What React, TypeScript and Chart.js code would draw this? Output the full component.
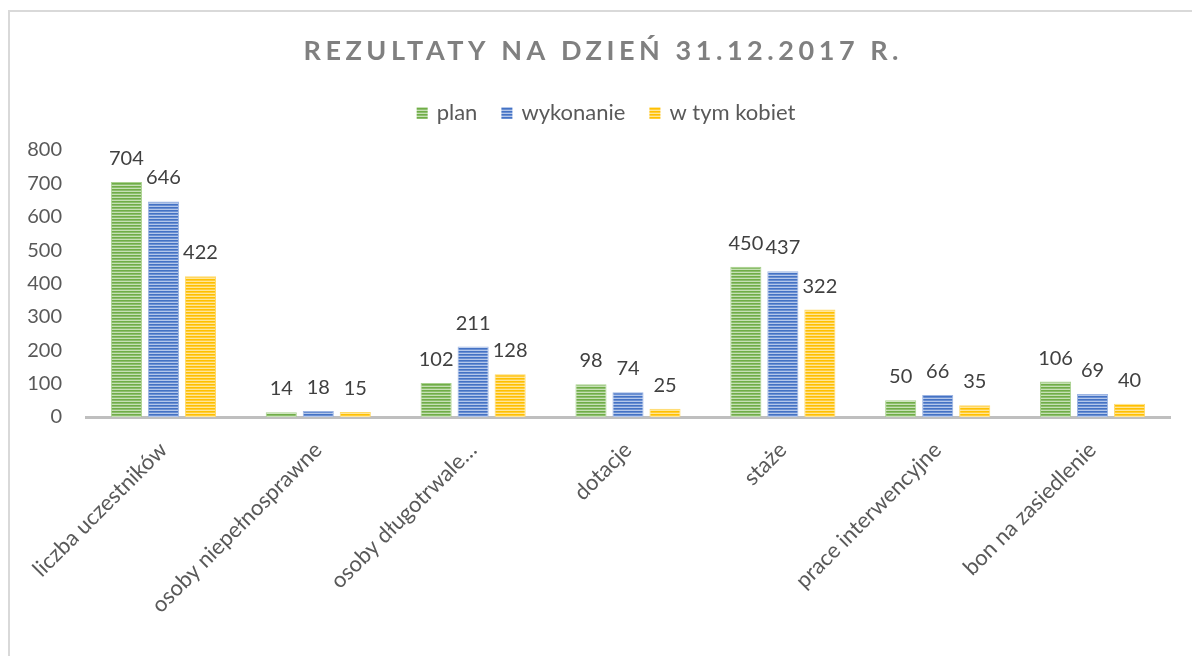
import React, { useEffect, useRef } from "react";
import { Chart, registerables } from "chart.js";

Chart.register(...registerables);

const titleText = "REZULTATY NA DZIEŃ 31.12.2017 R.";
const categories = [
  "liczba uczestników",
  "osoby niepełnosprawne",
  "osoby długotrwale…",
  "dotacje",
  "staże",
  "prace interwencyjne",
  "bon na zasiedlenie",
];
const seriesNames = ["plan", "wykonanie", "w tym kobiet"];
const planValues = [704, 14, 102, 98, 450, 50, 106];
const wykonanieValues = [646, 18, 211, 74, 437, 66, 69];
const kobietValues = [422, 15, 128, 25, 322, 35, 40];
const yMin = 0;
const yMax = 800;
const yStep = 100;

const FONT = "Lato, 'Open Sans', sans-serif";
const baseColors = ["#70AD47", "#4472C4", "#FFC000"];
const midColors = ["#8DBE6E", "#6A8FD2", "#FFCC3A"];
const lightColors = ["#C6E0B5", "#B4C7EA", "#FFE699"];
const edgeColors = ["#A9D18E", "#9DB5E3", "#FFD966"];

function stripes(base: string, mid: string, light: string) {
  const c = document.createElement("canvas");
  c.width = 4;
  c.height = 3;
  const x = c.getContext("2d")!;
  x.fillStyle = base;
  x.fillRect(0, 0, 4, 1);
  x.fillStyle = mid;
  x.fillRect(0, 1, 4, 1);
  x.fillStyle = light;
  x.fillRect(0, 2, 4, 1);
  return x.createPattern(c, "repeat")!;
}

const extrasPlugin = {
  id: "extras",
  afterDatasetsDraw(chart: any) {
    const ctx = chart.ctx;
    ctx.save();
    ctx.font = `20px ${FONT}`;
    ctx.fillStyle = "#404040";
    ctx.textAlign = "center";
    ctx.textBaseline = "alphabetic";
    chart.data.datasets.forEach((ds: any, i: number) => {
      const meta = chart.getDatasetMeta(i);
      meta.data.forEach((el: any, j: number) => {
        ctx.fillText(String(ds.data[j]), el.x, el.y - 17);
      });
    });
    ctx.restore();
  },
  afterDraw(chart: any) {
    const ctx = chart.ctx;
    const w = chart.width;
    // title
    ctx.save();
    ctx.font = `bold 27px ${FONT}`;
    ctx.fillStyle = "#808080";
    ctx.textBaseline = "alphabetic";
    ctx.textAlign = "left";
    (ctx as any).letterSpacing = "0px";
    const base = ctx.measureText(titleText).width;
    const n = Array.from(titleText).length;
    const target = 595;
    const s = Math.max(0, (target - base) / (n - 1));
    (ctx as any).letterSpacing = `${s}px`;
    ctx.fillText(titleText, w / 2 - target / 2, 48);
    ctx.restore();

    // legend
    ctx.save();
    ctx.font = `22px ${FONT}`;
    ctx.textBaseline = "alphabetic";
    ctx.textAlign = "left";
    const widths = seriesNames.map((t) => ctx.measureText(t).width);
    const markerW = 11;
    const textGap = 9;
    const itemGap = 24;
    let total = 0;
    widths.forEach((tw, i) => {
      total += markerW + textGap + tw + (i < widths.length - 1 ? itemGap : 0);
    });
    let x = 596 - total / 2;
    chart.data.datasets.forEach((ds: any, i: number) => {
      ctx.fillStyle = ds.backgroundColor;
      ctx.fillRect(x, 95, markerW, 12);
      ctx.fillStyle = "#595959";
      ctx.fillText(seriesNames[i], x + markerW + textGap, 108);
      x += markerW + textGap + widths[i] + itemGap;
    });
    ctx.restore();
  },
};

export default function App() {
  const ref = useRef<HTMLCanvasElement>(null);
  useEffect(() => {
    if (!ref.current) return;
    Chart.defaults.font.family = FONT;
    const values = [planValues, wykonanieValues, kobietValues];
    const chart = new Chart(ref.current, {
      type: "bar",
      data: {
        labels: categories,
        datasets: values.map((v, i) => ({
          label: seriesNames[i],
          data: v,
          backgroundColor: stripes(baseColors[i], midColors[i], lightColors[i]) as any,
          borderColor: edgeColors[i],
          borderWidth: 1,
          categoryPercentage: 0.717,
          barPercentage: 0.84,
        })),
      },
      options: {
        responsive: false,
        animation: false,
        layout: { padding: { top: 138, right: 22, bottom: 0, left: 0 } },
        plugins: {
          legend: { display: false },
          title: { display: false },
          tooltip: { enabled: false },
        },
        scales: {
          x: {
            grid: { display: false },
            border: { display: true, color: "#BFBFBF", width: 3 },
            ticks: {
              color: "#595959",
              font: { size: 22, family: FONT },
              minRotation: 45,
              maxRotation: 45,
              autoSkip: false,
              padding: 12,
            },
            afterFit: (scale: any) => {
              scale.height = 239;
            },
          },
          y: {
            min: yMin,
            max: yMax,
            grid: { display: false, drawTicks: false },
            border: { display: false },
            ticks: {
              stepSize: yStep,
              color: "#595959",
              font: { size: 20, family: FONT },
              padding: 24,
            },
            afterFit: (scale: any) => {
              scale.width = 76;
            },
          },
        },
      },
      plugins: [extrasPlugin],
    });
    return () => chart.destroy();
  }, []);
  return (
    <div
      style={{
        position: "fixed",
        left: 8,
        top: 10,
        width: 1184,
        height: 646,
        borderTop: "2px solid #D9D9D9",
        borderLeft: "2px solid #D9D9D9",
        boxSizing: "border-box",
        background: "#FFFFFF",
      }}
    >
      <canvas ref={ref} width={1182} height={644} style={{ display: "block" }} />
    </div>
  );
}
